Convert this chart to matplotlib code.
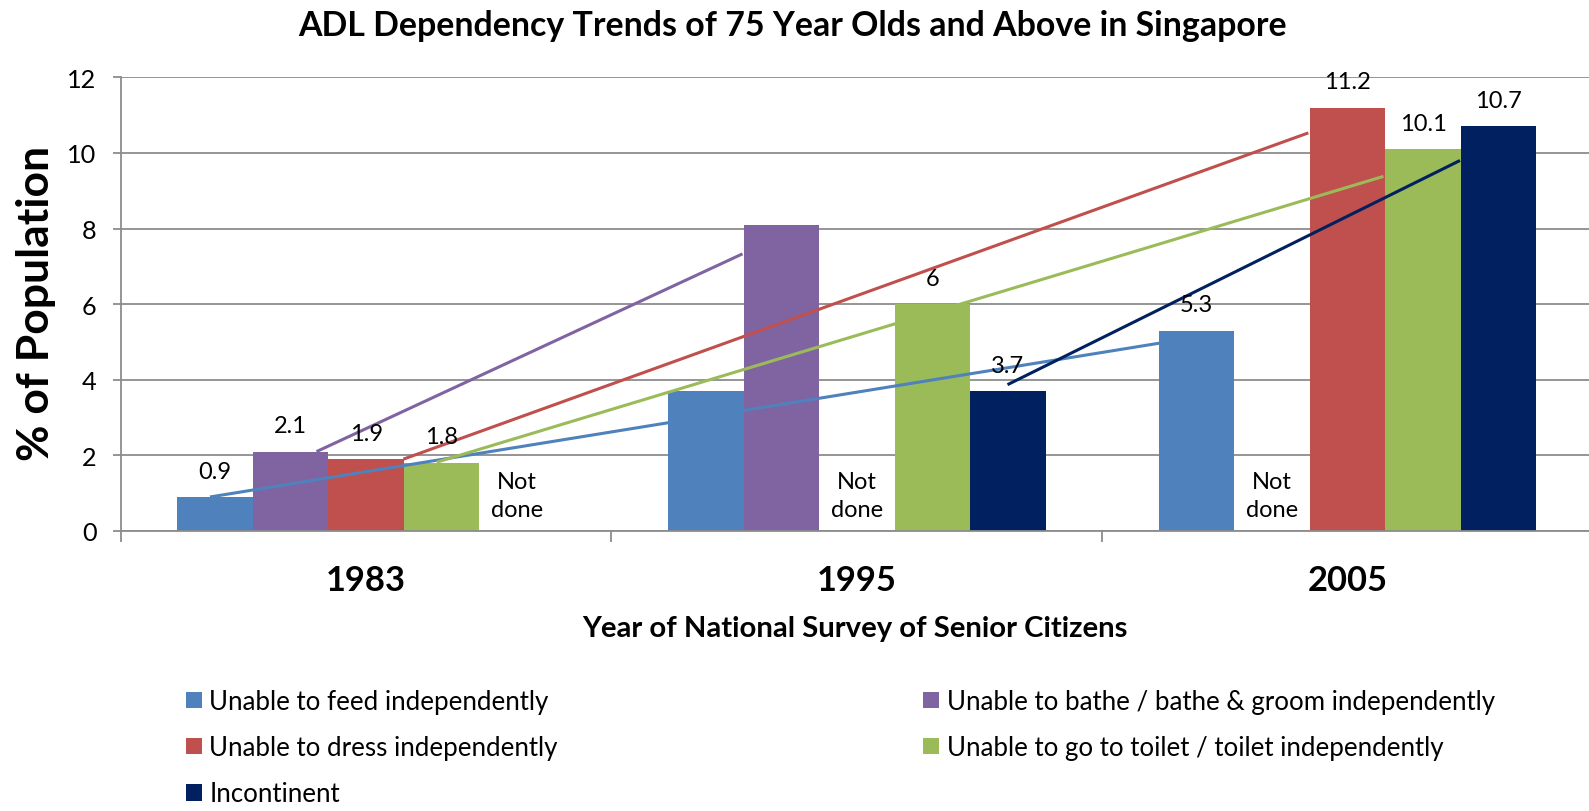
import matplotlib
matplotlib.use('Agg')
import matplotlib.pyplot as plt
from matplotlib.patches import Patch

plt.rcParams['font.family'] = ['Lato', 'DejaVu Sans']

years = ['1983', '1995', '2005']
names = ['Unable to feed independently',
         'Unable to bathe / bathe & groom independently',
         'Unable to dress independently',
         'Unable to go to toilet / toilet independently',
         'Incontinent']

# None = survey item not done that year
feed = [0.9, 3.7, 5.3]
bathe = [2.1, 8.1, None]
dress = [1.9, None, 11.2]
toilet = [1.8, 6.0, 10.1]
incontinent = [None, 3.7, 10.7]

# which bars get a value label
feed_lbl = [True, False, True]
bathe_lbl = [True, False, False]
dress_lbl = [True, False, True]
toilet_lbl = [True, True, True]
incontinent_lbl = [False, True, True]

# trend lines drawn over the bars: start/end as (category position, %)
trend_x0 = [-0.318, -0.101, 0.076, 0.144, 1.307]
trend_y0 = [0.9, 2.1, 1.9, 1.82, 3.87]
trend_x1 = [1.703, 0.767, 1.920, 2.073, 2.229]
trend_y1 = [5.15, 7.33, 10.53, 9.38, 9.80]

colors = ['#4F81BD', '#8064A2', '#C0504D', '#9BBB59', '#002060']
values = [feed, bathe, dress, toilet, incontinent]
shown = [feed_lbl, bathe_lbl, dress_lbl, toilet_lbl, incontinent_lbl]

W, H = 1589, 812
fig = plt.figure(figsize=(W / 100, H / 100), dpi=100)
ax = fig.add_axes([120.7 / W, (H - 532) / H, (1593 - 120.7) / W, (532 - 78.3) / H])

grey = '#8c8c8c'
bw = 1 / 6.5
for i, vals in enumerate(values):
    for j, v in enumerate(vals):
        x = j + (i - 2) * bw
        if v is None:
            ax.annotate('Not\ndone', (x, 0), xytext=(0, 25.5), textcoords='offset points',
                        ha='center', va='center', fontsize=17, linespacing=1.4, zorder=5)
            continue
        ax.bar(x, v, bw, color=colors[i], zorder=2)
        if shown[i][j]:
            ax.annotate(f'{v:g}', (x, v), xytext=(0, 18.7), textcoords='offset points',
                        ha='center', va='center', fontsize=17, zorder=5)

for i in range(5):
    ax.plot([trend_x0[i], trend_x1[i]], [trend_y0[i], trend_y1[i]],
            color=colors[i], lw=2.2, zorder=3, solid_capstyle='butt')

ax.set_xlim(-0.5, 2.5)
ax.set_ylim(0, 12)
ax.set_yticks(range(0, 13, 2))
ax.set_xticks(range(3))
ax.set_xticklabels(years, fontsize=24.8, fontweight='bold')
ax.set_xticks([-0.5, 0.5, 1.5, 2.5], minor=True)
ax.tick_params(axis='x', which='major', length=0, pad=24)
ax.tick_params(axis='x', which='minor', length=8, width=1.3, color=grey)
ax.tick_params(axis='y', length=5.8, width=1.3, color=grey, pad=11.5, labelsize=18.2)
ax.yaxis.grid(True, color=grey, lw=1.3)
ax.set_axisbelow(True)
for s in ['top', 'right']:
    ax.spines[s].set_visible(False)
for s in ['left', 'bottom']:
    ax.spines[s].set_color(grey)
    ax.spines[s].set_linewidth(1.3)

fig.text(792 / W, (H - 35.7) / H, 'ADL Dependency Trends of 75 Year Olds and Above in Singapore',
         ha='center', va='baseline', fontsize=24.4, fontweight='bold')
fig.text(855 / W, (H - 637.3) / H, 'Year of National Survey of Senior Citizens',
         ha='center', va='baseline', fontsize=21.1, fontweight='bold')
fig.text(36.5 / W, (H - 303.4) / H, '% of Population', rotation=90,
         ha='center', va='center', fontsize=32, fontweight='bold')

handles = [Patch(facecolor=c) for c in colors]
leg_kw = dict(frameon=False, fontsize=18.6, loc='upper left', borderpad=0, borderaxespad=0,
              handlelength=0.62, handleheight=0.62, handletextpad=0.3, labelspacing=0.82)
fig.legend([handles[0], handles[2], handles[4]], [names[0], names[2], names[4]],
           bbox_to_anchor=(185.7 / W, (H - 690) / H), **leg_kw)
fig.legend([handles[1], handles[3]], [names[1], names[3]],
           bbox_to_anchor=(923 / W, (H - 690) / H), **leg_kw)

fig.savefig('out.png', dpi=100)
